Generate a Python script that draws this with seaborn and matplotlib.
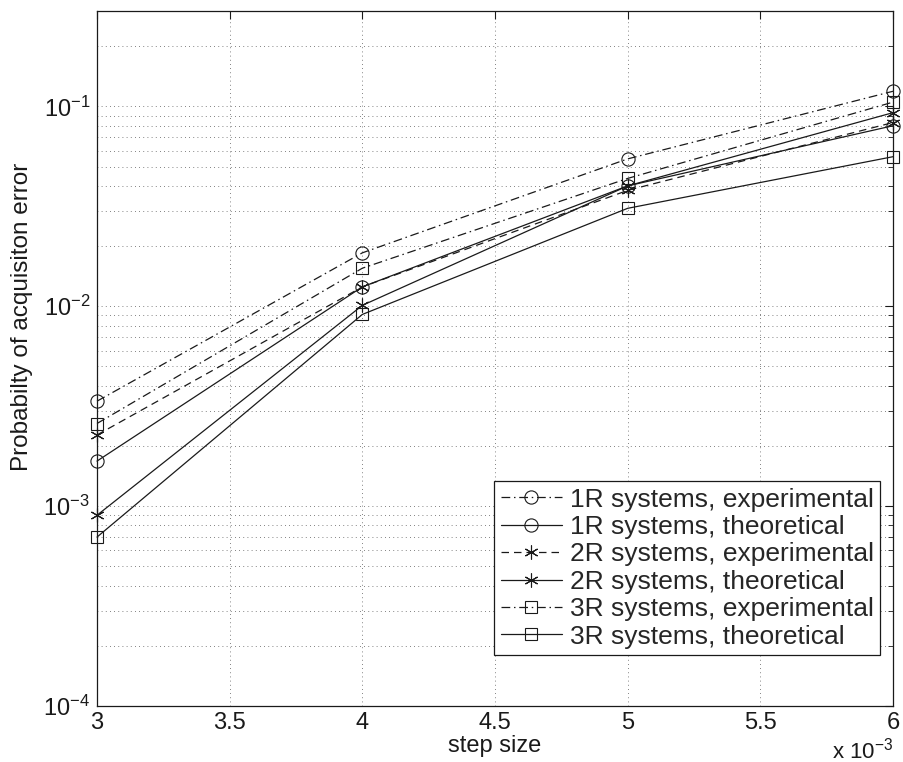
import matplotlib
matplotlib.use("Agg")
import matplotlib.pyplot as plt
import matplotlib.ticker as mticker
import seaborn as sns
import pandas as pd

# ---- data (step size in units of 1e-3) ----
step_size = [3, 4, 5, 6]
r1_exp = [3.35e-3, 0.0185, 0.0546, 0.119]
r1_theo = [1.68e-3, 0.0125, 0.0400, 0.080]
r2_exp = [2.27e-3, 0.0125, 0.0380, 0.083]
r2_theo = [0.90e-3, 0.0101, 0.0400, 0.093]
r3_exp = [2.59e-3, 0.0155, 0.0436, 0.105]
r3_theo = [0.70e-3, 0.0091, 0.0309, 0.0560]

labels = ["1R systems, experimental", "1R systems, theoretical",
          "2R systems, experimental", "2R systems, theoretical",
          "3R systems, experimental", "3R systems, theoretical"]
xtick_vals = [3, 3.5, 4, 4.5, 5, 5.5, 6]
xtick_labels = ["3", "3.5", "4", "4.5", "5", "5.5", "6"]

sns.set_theme(style="white")
plt.rcParams["font.family"] = ["Liberation Sans", "DejaVu Sans"]
plt.rcParams["mathtext.fontset"] = "custom"
plt.rcParams["mathtext.rm"] = "Liberation Sans"
plt.rcParams["mathtext.it"] = "Liberation Sans"

fig = plt.figure(figsize=(9.04, 7.62), dpi=100)
ax = fig.add_axes([97/904, 1 - 706/762, (893 - 97)/904, (706 - 11)/762])

dashdot = (0, (7, 3, 1.2, 3))
dashed = (0, (6, 4))
series = [
    (r1_exp, dashdot, "o", 9.5),
    (r1_theo, "-", "o", 9.5),
    (r2_exp, dashed, (6, 2, 0), 10),
    (r2_theo, "-", (6, 2, 0), 10),
    (r3_exp, dashdot, "s", 8),
    (r3_theo, "-", "s", 8),
]
for (vals, ls, mk, ms), lab in zip(series, labels):
    df = pd.DataFrame({"x": step_size, "y": vals})
    sns.lineplot(data=df, x="x", y="y", ax=ax, color="k", linestyle=ls,
                 linewidth=0.9, marker=mk, markersize=ms,
                 markerfacecolor="none", markeredgecolor="k",
                 markeredgewidth=0.8, label=lab, clip_on=False, zorder=3)

ax.set_yscale("log")
ax.set_ylim(1e-4, 0.3)
ax.set_xlim(3, 6)
ax.set_xticks(xtick_vals)
ax.set_xticklabels(xtick_labels)
ax.yaxis.set_major_locator(mticker.LogLocator(base=10, numticks=10))
ax.yaxis.set_minor_locator(mticker.LogLocator(base=10, subs=range(2, 10), numticks=20))
ax.yaxis.set_minor_formatter(mticker.NullFormatter())

grid_kw = dict(color="0.35", linestyle=(0, (1, 4)), linewidth=0.6)
ax.grid(True, which="major", axis="both", **grid_kw)
ax.grid(True, which="minor", axis="y", **grid_kw)
ax.set_axisbelow(True)

ax.tick_params(axis="both", which="both", direction="in", top=True, right=True,
               labelsize=17, colors="k")
ax.tick_params(which="major", length=6, width=0.8)
ax.tick_params(which="minor", length=3.5, width=0.6)
ax.tick_params(axis="x", pad=4)
ax.tick_params(axis="y", pad=5)
for sp in ax.spines.values():
    sp.set_color("k")
    sp.set_linewidth(0.9)

ax.set_xlabel("step size", fontsize=17, color="k", labelpad=1)
ax.set_ylabel("Probabilty of acquisiton error", fontsize=17.5, color="k")
ax.yaxis.set_label_coords(-0.08, 0.56)
ax.text(1.0, -0.064, r"x 10$^{-3}$", transform=ax.transAxes, ha="right",
        va="center", fontsize=16, color="k")

leg = ax.legend(loc="lower right", bbox_to_anchor=(0.984, 0.073), fontsize=19,
                frameon=True, fancybox=False, framealpha=1, edgecolor="k",
                handlelength=2.3, handletextpad=0.3, labelspacing=0.13,
                borderpad=0.25, borderaxespad=0)
leg.get_frame().set_linewidth(0.9)
leg.set_zorder(5)

fig.savefig("out.png", dpi=100)
